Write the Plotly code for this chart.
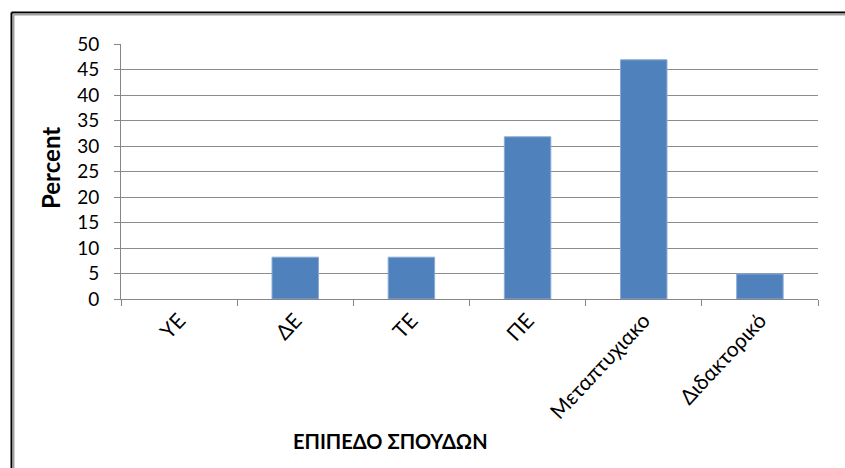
import plotly.graph_objects as go

# Education level distribution (percent)
categories = ["ΥΕ", "ΔΕ", "ΤΕ", "ΠΕ", "Μεταπτυχιακο", "Διδακτορικό"]
percent = [0, 8.2, 8.2, 31.8, 46.9, 4.9]
y_ticks = [0, 5, 10, 15, 20, 25, 30, 35, 40, 45, 50]

W, H = 845, 468
L, R, T, B = 121, 818, 44, 299  # plot-area pixel edges


def px_x(p):
    return (p - L) / (R - L)


def px_y(p):
    return (B - p) / (B - T)


FONT = "Lato, 'Liberation Sans', sans-serif"

fig = go.Figure(
    go.Bar(
        x=categories,
        y=percent,
        marker=dict(
            color="#4F81BD",
            line=dict(color="#8AAAD6", width=[0 if v == 0 else 1 for v in percent]),
        ),
        width=0.4,
    )
)

fig.update_layout(
    width=W,
    height=H,
    margin=dict(l=L, r=W - R, t=T, b=H - B),
    paper_bgcolor="white",
    plot_bgcolor="white",
    showlegend=False,
    font=dict(family=FONT, color="#000000"),
)

fig.update_xaxes(
    type="category",
    tickson="boundaries",
    ticks="outside",
    ticklen=6,
    tickcolor="#868686",
    showline=True,
    linecolor="#868686",
    linewidth=1,
    showgrid=False,
    tickangle=-47,
    tickfont=dict(size=21, family=FONT, color="#000000"),
)

fig.update_yaxes(
    range=[0, 50],
    tickvals=y_ticks,
    ticks="outside",
    ticklen=6,
    tickcolor="#868686",
    ticklabelstandoff=11,
    showline=True,
    linecolor="#868686",
    linewidth=1,
    showgrid=True,
    gridcolor="#8C8C8C",
    gridwidth=1,
    zeroline=False,
    tickfont=dict(size=19, family=FONT, color="#000000"),
)

fig.add_annotation(
    text="<b>Percent</b>",
    xref="paper", yref="paper",
    x=px_x(50), y=px_y(168),
    xanchor="center", yanchor="middle",
    textangle=-90, showarrow=False,
    font=dict(size=24, family=FONT, color="#000000"),
)

fig.add_annotation(
    text="<b>ΕΠΙΠΕΔΟ ΣΠΟΥΔΩΝ</b>",
    xref="paper", yref="paper",
    x=px_x(390), y=px_y(441),
    xanchor="center", yanchor="middle",
    showarrow=False,
    font=dict(size=20, family=FONT, color="#000000"),
)

# chart frame: dark outer line with a grey inner shadow
for off, col in [(0, "#000000"), (2, "#A0A0A0")]:
    fig.add_shape(type="line", xref="paper", yref="paper",
                  x0=px_x(11.5 + off), x1=px_x(11.5 + off),
                  y0=px_y(12.5 + off), y1=px_y(H + 5),
                  line=dict(color=col, width=2))
    fig.add_shape(type="line", xref="paper", yref="paper",
                  x0=px_x(11.5 + off), x1=px_x(W + 5),
                  y0=px_y(12.5 + off), y1=px_y(12.5 + off),
                  line=dict(color=col, width=2))

fig.write_html("out.html")
